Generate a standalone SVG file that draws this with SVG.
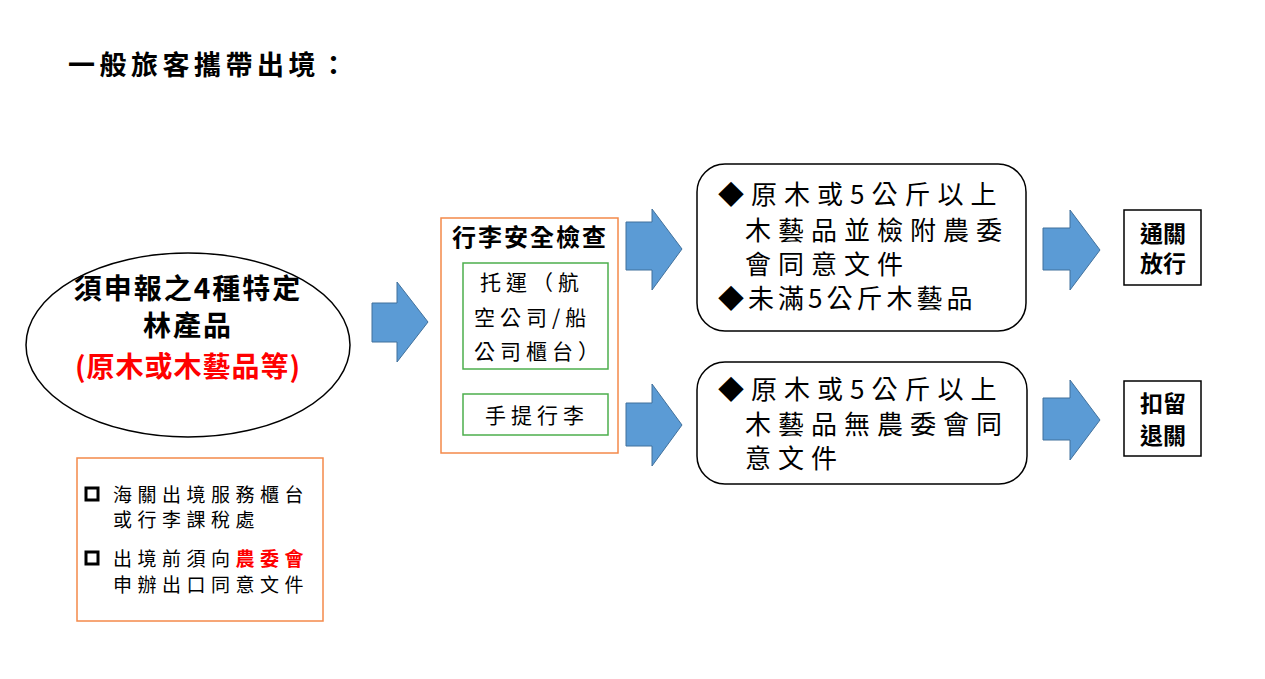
<svg xmlns="http://www.w3.org/2000/svg" width="1265" height="679" viewBox="0 0 1265 679">
<style>
text{font-family:"Noto Sans CJK TC","Noto Sans CJK SC",sans-serif;fill:#000}
.b{font-weight:bold}
.red{fill:#f00}
.big{font-size:26px;letter-spacing:7px}
.sm{font-size:19px;letter-spacing:5.5px}
.g{font-size:21px;letter-spacing:5px}
.arr{fill:#5b9bd5;stroke:#41719c;stroke-width:1}
.or{fill:#fff;stroke:#f4894a;stroke-width:1.5}
.gr{fill:#fff;stroke:#4cae4c;stroke-width:1.5}
.rb{fill:#fff;stroke:#000;stroke-width:1.5}
.sq{fill:#fff;stroke:#000;stroke-width:3}
</style>
<rect width="1265" height="679" fill="#fff"/>
<text x="68" y="75" font-size="27" letter-spacing="4.5" class="b">一般旅客攜帶出境：</text>
<g id="declare">
<ellipse cx="188" cy="345" rx="162" ry="92" class="rb"/>
<text x="188" y="299" font-size="28" letter-spacing="2" class="b" text-anchor="middle">須申報之4種特定</text>
<text x="188" y="336" font-size="28" letter-spacing="2" class="b" text-anchor="middle">林產品</text>
<text x="188" y="377" font-size="28" letter-spacing="1" class="b red" text-anchor="middle">(原木或木藝品等)</text>
</g>
<g id="note">
<rect x="77" y="458" width="246" height="163" class="or"/>
<rect x="86" y="488" width="12" height="12" class="sq"/>
<text x="113" y="502" class="sm">海關出境服務櫃台</text>
<text x="113" y="527" class="sm">或行李課稅處</text>
<rect x="86" y="552" width="12" height="12" class="sq"/>
<text x="113" y="566" class="sm">出境前須向<tspan class="red b">農委會</tspan></text>
<text x="113" y="592" class="sm">申辦出口同意文件</text>
</g>
<g id="security">
<rect x="441" y="218" width="177" height="235" class="or"/>
<text x="530" y="246" font-size="24" letter-spacing="2" class="b" text-anchor="middle">行李安全檢查</text>
</g>
<g id="checked">
<rect x="463" y="263" width="145" height="106" class="gr"/>
<text x="480" y="290" class="g">托運（航</text>
<text x="474" y="325" class="g">空公司/船</text>
<text x="474" y="359" class="g">公司櫃台）</text>
</g>
<g id="carry">
<rect x="463" y="394" width="145" height="41" class="gr"/>
<text x="485" y="423" class="g">手提行李</text>
</g>
<g id="case1">
<rect x="697" y="164" width="329" height="167" rx="28" class="rb"/>
<text x="718" y="204" class="big">◆原木或5公斤以上</text>
<text x="745" y="240" class="big">木藝品並檢附農委</text>
<text x="745" y="274" class="big">會同意文件</text>
<text x="718" y="308" font-size="26" letter-spacing="4">◆未滿5公斤木藝品</text>
</g>
<g id="case2">
<rect x="697" y="362" width="330" height="122" rx="28" class="rb"/>
<text x="718" y="399" class="big">◆原木或5公斤以上</text>
<text x="745" y="434" class="big">木藝品無農委會同</text>
<text x="745" y="468" class="big">意文件</text>
</g>
<g id="pass">
<rect x="1124" y="210" width="77" height="75" class="rb" stroke-width="1"/>
<text x="1163" y="242" font-size="23" class="b" text-anchor="middle">通關</text>
<text x="1163" y="272" font-size="23" class="b" text-anchor="middle">放行</text>
</g>
<g id="detain">
<rect x="1124" y="381" width="77" height="75" class="rb" stroke-width="1"/>
<text x="1163" y="412" font-size="23" class="b" text-anchor="middle">扣留</text>
<text x="1163" y="444" font-size="23" class="b" text-anchor="middle">退關</text>
</g>
<g id="connectors">
<polygon class="arr" points="372,303 397,303 397,282 428,322 397,362 397,342 372,342"/>
<polygon class="arr" points="626,222 652,222 652,209 682,249 652,290 652,270 626,270"/>
<polygon class="arr" points="626,403 652,403 652,384 682,425 652,466 652,446 626,446"/>
<polygon class="arr" points="1043,228 1070,228 1070,210 1100,250 1070,290 1070,270 1043,270"/>
<polygon class="arr" points="1043,398 1070,398 1070,380 1100,420 1070,460 1070,440 1043,440"/>
</g>
</svg>
